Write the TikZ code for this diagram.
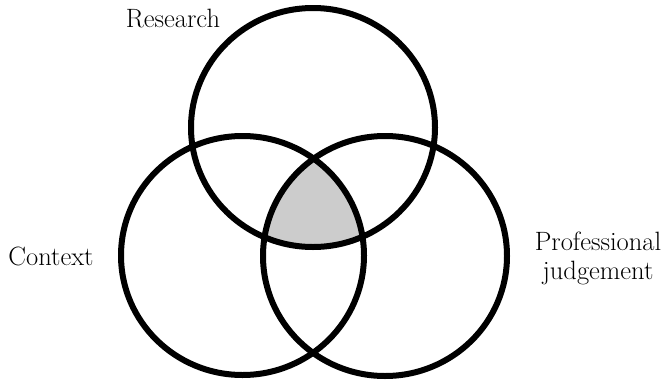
\documentclass[tikz,border=0pt]{standalone}
\usetikzlibrary{shapes.geometric}
\begin{document}
\begin{tikzpicture}[x=1pt,y=-1pt,
  ring/.style={draw=black,line width=6pt,ellipse,inner sep=0pt,outer sep=0pt},
  lbl/.style={font=\fontsize{26.5}{29}\selectfont,align=center,inner sep=0pt}]
\useasboundingbox (0,0) rectangle (667,383);
\definecolor{core}{RGB}{204,204,204}
\begin{scope}
  \clip (313,127.5) ellipse [x radius=122,y radius=119.5];
  \clip (242.5,255.5) ellipse [x radius=121.5,y radius=119.5];
  \fill[core] (385,256) ellipse [x radius=122,y radius=120];
\end{scope}
\node[ring,minimum width=244pt,minimum height=239pt] (top) at (313,127.5) {};
\node[ring,minimum width=243pt,minimum height=239pt] (left) at (242.5,255.5) {};
\node[ring,minimum width=244pt,minimum height=240pt] (right) at (385,256) {};
\node[lbl] (research) at (173,19) {Research};
\node[lbl] (context) at (51,256) {Context};
\node[lbl] (prof) at (598,258) {Professional\\judgement};
\end{tikzpicture}
\end{document}
